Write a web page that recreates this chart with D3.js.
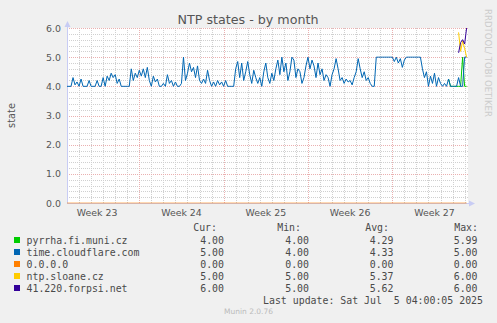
<!DOCTYPE html>
<html>
<head>
<meta charset="utf-8">
<script src="https://cdn.jsdelivr.net/npm/d3@7"></script>
<style>
  html, body { margin: 0; padding: 0; background: #F0F0F0; }
  svg { display: block; }
</style>
</head>
<body>
<script>
// NTP peer states over the last month, sampled every 4 hours from Jun 3 00:00 UTC.
const sampleStart = Date.UTC(2025, 5, 3, 0, 0);
const sampleStepHours = 4;

const hostNames = ["pyrrha.fi.muni.cz", "time.cloudflare.com", "0.0.0.0", "ntp.sloane.cz", "41.220.forpsi.net"];
const hostColors = ["#00CC00", "#0066B3", "#FF8000", "#FFCC00", "#330099"];

// time.cloudflare.com, full month
const cloudflareValues = [
  4.0,4.0,4.0,4.3,4.05,4.15,4.0,4.25,4.0,4.0,
  4.0,4.2,4.0,4.0,4.0,4.2,4.0,4.0,4.3,4.0,
  4.35,4.2,4.45,4.3,4.4,4.1,4.25,4.0,4.0,4.0,
  4.0,4.0,4.6,4.2,4.45,4.3,4.55,4.35,4.6,4.3,
  4.65,4.2,4.0,4.35,4.15,4.25,4.0,4.0,4.1,4.0,
  4.4,4.1,4.2,4.0,4.15,4.0,4.0,4.1,5.0,4.2,
  4.45,4.8,4.5,4.65,4.3,4.7,4.2,4.1,4.25,4.1,
  4.55,4.2,4.0,4.15,4.0,4.2,4.05,4.15,4.0,4.2,
  4.0,4.0,4.0,4.0,4.6,4.85,4.3,4.8,4.2,4.5,
  4.85,4.4,4.1,4.55,4.3,4.1,4.3,4.0,4.5,4.8,
  4.3,4.1,4.45,4.2,4.6,4.9,4.4,5.0,4.5,4.8,
  4.2,4.5,5.0,4.9,4.3,4.6,4.5,4.1,4.3,4.7,
  5.0,4.6,4.9,4.7,4.3,4.8,4.4,4.6,4.2,4.4,
  4.3,4.0,4.4,4.6,4.95,4.6,4.2,4.3,4.1,4.25,
  4.15,4.2,4.05,4.3,4.5,4.95,4.6,4.3,4.5,4.2,
  4.3,4.1,4.0,4.0,5.0,5.0,5.0,5.0,5.0,5.0,
  5.0,5.0,5.0,4.85,5.0,4.8,4.95,4.65,4.9,5.0,
  5.0,5.0,5.0,5.0,5.0,5.0,5.0,4.6,4.3,4.5,
  4.0,4.35,4.1,4.45,4.0,4.3,4.1,4.0,4.1,4.0,
  4.25,4.0,4.0,4.0,4.0,4.3,4.0,4.0,5.0,5.0
];

// pyrrha.fi.muni.cz, last samples (earlier ones run under the cloudflare trace)
const pyrrhaStart = 190;
const pyrrhaValues = [4.25,4.0,4.0,4.0,4.0,4.0,4.0,5.0,4.0,4.0];

// 0.0.0.0 stays at zero: first and last sample index
const zeroHostIndex = [0, 199];
const zeroHostValues = [0, 0];

// newly added peers
const sloaneStart = 195;
const sloaneValues = [5.85, 5.2, 5.55, 5.3, 5.0];
const forpsiStart = 195;
const forpsiValues = [5.15, 5.5, 5.6, 5.45, 6.0];

// legend statistics: Cur, Min, Avg, Max
const statCur = [4.00, 5.00, 0.00, 5.00, 6.00];
const statMin = [4.00, 4.00, 0.00, 5.00, 5.00];
const statAvg = [4.29, 4.33, 0.00, 5.37, 5.62];
const statMax = [5.99, 5.00, 0.00, 6.00, 6.00];

const yTicks = [0, 1, 2, 3, 4, 5, 6];
const weekLabels = ["Week 23", "Week 24", "Week 25", "Week 26", "Week 27"];

const W = 497, H = 323;
const pLeft = 67, pRight = 468, pTop = 28, pBottom = 203;

const svg = d3.select("body").append("svg")
  .attr("width", W).attr("height", H);

svg.append("rect").attr("width", W).attr("height", H).attr("fill", "#F0F0F0");

const x = d3.scaleUtc()
  .domain([new Date(sampleStart), new Date(Date.UTC(2025, 6, 6, 6, 45))])
  .range([pLeft, pRight]);
const y = d3.scaleLinear().domain([0, 6]).range([pBottom, pTop]);

const timeAt = i => new Date(sampleStart + i * sampleStepHours * 3600e3);

// canvas
svg.append("rect")
  .attr("x", pLeft).attr("y", pTop)
  .attr("width", pRight - pLeft).attr("height", pBottom - pTop)
  .attr("fill", "#FFFFFF");

const grid = svg.append("g");
const minorColor = "#D0D0D0", majorColor = "#EAB0B0";

// minor horizontal grid every 0.2
const yMinor = d3.range(0, 6.0001, 0.2).filter(v => Math.abs(v - Math.round(v)) > 1e-6);
grid.selectAll(".hmin").data(yMinor).join("line")
  .attr("x1", pLeft).attr("x2", pRight)
  .attr("y1", d => Math.round(y(d)) + 0.5).attr("y2", d => Math.round(y(d)) + 0.5)
  .attr("stroke", minorColor).attr("stroke-dasharray", "1,1");

// minor vertical grid, one per day
const days = d3.utcDay.range(x.domain()[0], x.domain()[1]).filter(d => d.getUTCDay() !== 1);
grid.selectAll(".vmin").data(days).join("line")
  .attr("x1", d => Math.round(x(d)) + 0.5).attr("x2", d => Math.round(x(d)) + 0.5)
  .attr("y1", pTop).attr("y2", pBottom)
  .attr("stroke", minorColor).attr("stroke-dasharray", "1,1");

// major horizontal grid
grid.selectAll(".hmaj").data(yTicks).join("line")
  .attr("x1", pLeft).attr("x2", pRight)
  .attr("y1", d => Math.round(y(d)) + 0.5).attr("y2", d => Math.round(y(d)) + 0.5)
  .attr("stroke", majorColor).attr("stroke-dasharray", "1,1");

// major vertical grid at week starts
const mondays = d3.utcMonday.range(x.domain()[0], x.domain()[1]);
grid.selectAll(".vmaj").data(mondays).join("line")
  .attr("x1", d => Math.round(x(d)) + 0.5).attr("x2", d => Math.round(x(d)) + 0.5)
  .attr("y1", pTop).attr("y2", pBottom)
  .attr("stroke", majorColor).attr("stroke-dasharray", "1,1");

// axes (left line + arrows)
svg.append("line").attr("x1", pLeft + 0.5).attr("x2", pLeft + 0.5)
  .attr("y1", pTop - 4).attr("y2", pBottom + 0.5)
  .attr("stroke", "#C8CCF4");
svg.append("path").attr("d", `M${pLeft - 2.5},${pTop - 1}L${pLeft + 3.5},${pTop - 1}L${pLeft + 0.5},${pTop - 7}Z`)
  .attr("fill", "#C8CCF4");
svg.append("line").attr("x1", pLeft).attr("x2", pRight + 2)
  .attr("y1", pBottom + 0.5).attr("y2", pBottom + 0.5)
  .attr("stroke", "#C8CCF4");
svg.append("path").attr("d", `M${pRight + 1},${pBottom - 2.5}L${pRight + 1},${pBottom + 3.5}L${pRight + 7},${pBottom + 0.5}Z`)
  .attr("fill", "#C8CCF4");

// y tick labels
const axisFont = "DejaVu Sans";
svg.append("g").selectAll("text").data(yTicks).join("text")
  .attr("x", 61).attr("y", d => y(d) + 3.5)
  .attr("text-anchor", "end")
  .attr("font-family", axisFont).attr("font-size", 9.4)
  .attr("fill", "#555").text(d => d3.format(".1f")(d));

// week labels, centred on each week
const weekStarts = d3.utcMonday.range(Date.UTC(2025, 5, 2), Date.UTC(2025, 6, 1));
svg.append("g").selectAll("text").data(weekLabels).join("text")
  .attr("x", (d, i) => x(new Date(+weekStarts[i] + 3.5 * 864e5)))
  .attr("y", 216)
  .attr("text-anchor", "middle")
  .attr("font-family", axisFont).attr("font-size", 9.4)
  .attr("fill", "#555").text(d => d);

// title
svg.append("text").attr("x", 248).attr("y", 24)
  .attr("text-anchor", "middle")
  .attr("font-family", axisFont).attr("font-size", 12.7)
  .attr("fill", "#555").text("NTP states - by month");

// vertical axis title
svg.append("text").attr("transform", `translate(15,${(pTop + pBottom) / 2}) rotate(-90)`)
  .attr("text-anchor", "middle")
  .attr("font-family", axisFont).attr("font-size", 9.8)
  .attr("fill", "#555").text("state");

// rrdtool credit
svg.append("text").attr("transform", "translate(485,9) rotate(90)")
  .attr("font-family", axisFont).attr("font-size", 8.6)
  .attr("fill", "#CCCCCC").text("RRDTOOL/ TOBI OETIKER");

// series lines
const line = d3.line().x(d => x(d[0])).y(d => y(d[1]));
const toPoints = (start, vals) => vals.map((v, k) => [timeAt(start + k), v]);

const series = [
  { color: hostColors[0], opacity: 1, pts: toPoints(pyrrhaStart, pyrrhaValues) },
  { color: hostColors[1], opacity: 1, pts: toPoints(0, cloudflareValues) },
  { color: hostColors[2], opacity: 0.6, pts: zeroHostIndex.map((i, k) => [timeAt(i), zeroHostValues[k]]) },
  { color: hostColors[3], opacity: 1, pts: toPoints(sloaneStart, sloaneValues) },
  { color: hostColors[4], opacity: 1, pts: toPoints(forpsiStart, forpsiValues) }
];

svg.append("g").selectAll("path").data(series).join("path")
  .attr("d", d => line(d.pts))
  .attr("fill", "none")
  .attr("stroke", d => d.color)
  .attr("stroke-opacity", d => d.opacity)
  .attr("stroke-width", 1);

// legend
const mono = "DejaVu Sans Mono";
const legend = svg.append("g").attr("font-family", mono).attr("font-size", 9.9).attr("fill", "#4a4a4a");
const headers = [["Cur:", 217], ["Min:", 301], ["Avg:", 389], ["Max:", 478]];
legend.selectAll(".hdr").data(headers).join("text")
  .attr("x", d => d[1]).attr("y", 230.5).attr("text-anchor", "end").text(d => d[0]);

const rowY = i => 243.5 + i * 12;
legend.selectAll(".sw").data(hostNames).join("rect")
  .attr("x", 14).attr("y", (d, i) => rowY(i) - 6.5)
  .attr("width", 6).attr("height", 6)
  .attr("fill", (d, i) => hostColors[i]);
legend.selectAll(".nm").data(hostNames).join("text")
  .attr("x", 26.5).attr("y", (d, i) => rowY(i)).text(d => d);

const cols = [[statCur, 224], [statMin, 309], [statAvg, 393.5], [statMax, 477.5]];
cols.forEach(([arr, cx]) => {
  legend.append("g").selectAll("text").data(arr).join("text")
    .attr("x", cx).attr("y", (d, i) => rowY(i))
    .attr("text-anchor", "end").text(d => d.toFixed(2));
});

legend.append("text").attr("x", 483).attr("y", 304)
  .attr("text-anchor", "end").attr("xml:space", "preserve")
  .style("white-space", "pre")
  .text("Last update: Sat Jul  5 04:00:05 2025");

svg.append("text").attr("x", 248.5).attr("y", 314)
  .attr("text-anchor", "middle")
  .attr("font-family", axisFont).attr("font-size", 7.5)
  .attr("fill", "#BBBBBB").text("Munin 2.0.76");
</script>
</body>
</html>
